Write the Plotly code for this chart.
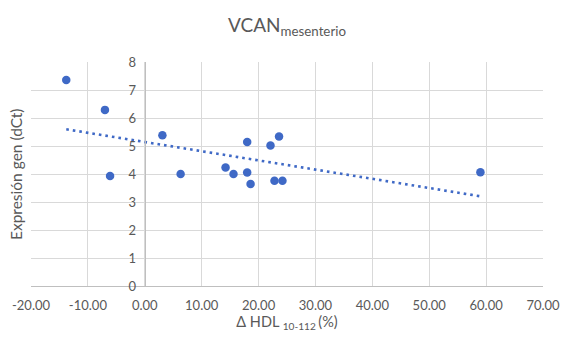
import numpy as np
import plotly.graph_objects as go

# Change in HDL (%) and gene expression (dCt) per sample
delta_hdl = [-13.8, -7.0, -6.1, 3.1, 6.3, 14.2, 15.6, 18.0, 18.0, 18.6,
             22.1, 23.6, 22.8, 24.2, 59.0]
expresion = [7.36, 6.29, 3.93, 5.38, 4.00, 4.23, 4.00, 4.05, 5.14, 3.64,
             5.02, 5.34, 3.76, 3.76, 4.06]

x_range = [-20, 70]
y_range = [0, 8]
x_ticks = [-20, -10, 0, 10, 20, 30, 40, 50, 60, 70]
x_tick_labels = ["-20.00", "-10.00", "0.00", "10.00", "20.00", "30.00",
                 "40.00", "50.00", "60.00", "70.00"]
y_ticks = [0, 1, 2, 3, 4, 5, 6, 7, 8]

BLUE = "#3f69c6"
TEXT = "#595959"
GRID = "#d9d9d9"
AXIS = "#bfbfbf"
FONT = "Lato, Open Sans, sans-serif"

# Linear trendline over the span of the data
slope, intercept = np.polyfit(delta_hdl, expresion, 1)
trend_x = np.array([min(delta_hdl), max(delta_hdl)])
trend_y = slope * trend_x + intercept

fig = go.Figure()
fig.add_trace(go.Scatter(
    x=trend_x, y=trend_y, mode="lines",
    line=dict(color=BLUE, width=2.6, dash="2.6px,4px"),
    hoverinfo="skip", showlegend=False,
))
fig.add_trace(go.Scatter(
    x=delta_hdl, y=expresion, mode="markers",
    marker=dict(color=BLUE, size=8.5, line=dict(width=0)),
    showlegend=False,
))

# vertical axis crosses the horizontal one at x = 0
y_axis_pos = (0 - x_range[0]) / (x_range[1] - x_range[0])

fig.update_layout(
    width=572, height=340,
    margin=dict(l=29, r=19, t=62, b=53),
    paper_bgcolor="white", plot_bgcolor="white",
    font=dict(family=FONT, color=TEXT, size=13),
    title=dict(
        text="VCAN<sub>mesenterio</sub>",
        font=dict(family=FONT, size=19, color=TEXT),
        x=0.5, xanchor="center", xref="paper",
        y=1 - 25 / 340, yanchor="middle", yref="container",
    ),
    xaxis=dict(
        range=x_range, tickvals=x_ticks, ticktext=x_tick_labels,
        showgrid=True, gridcolor=GRID, gridwidth=1,
        zeroline=False, showline=True, linecolor=AXIS, linewidth=1.3,
        ticks="", ticklabelstandoff=7,
        tickfont=dict(size=13, color=TEXT),
        title=dict(text="Δ HDL <sub>10-112 </sub>(%)",
                   font=dict(size=14.5, color=TEXT), standoff=5),
    ),
    yaxis=dict(
        range=y_range, tickvals=y_ticks,
        anchor="free", position=y_axis_pos,
        showgrid=True, gridcolor=GRID, gridwidth=1,
        zeroline=False, showline=True, linecolor=AXIS, linewidth=1.3,
        ticks="", ticklabelstandoff=6,
        tickfont=dict(size=13, color=TEXT),
    ),
    annotations=[dict(
        text="Expresión gen (dCt)", textangle=-90,
        xref="paper", yref="paper", x=0, y=0.5,
        xshift=-15, xanchor="center", yanchor="middle",
        showarrow=False, font=dict(size=15.5, color=TEXT),
    )],
)

fig.write_html("out.html")
